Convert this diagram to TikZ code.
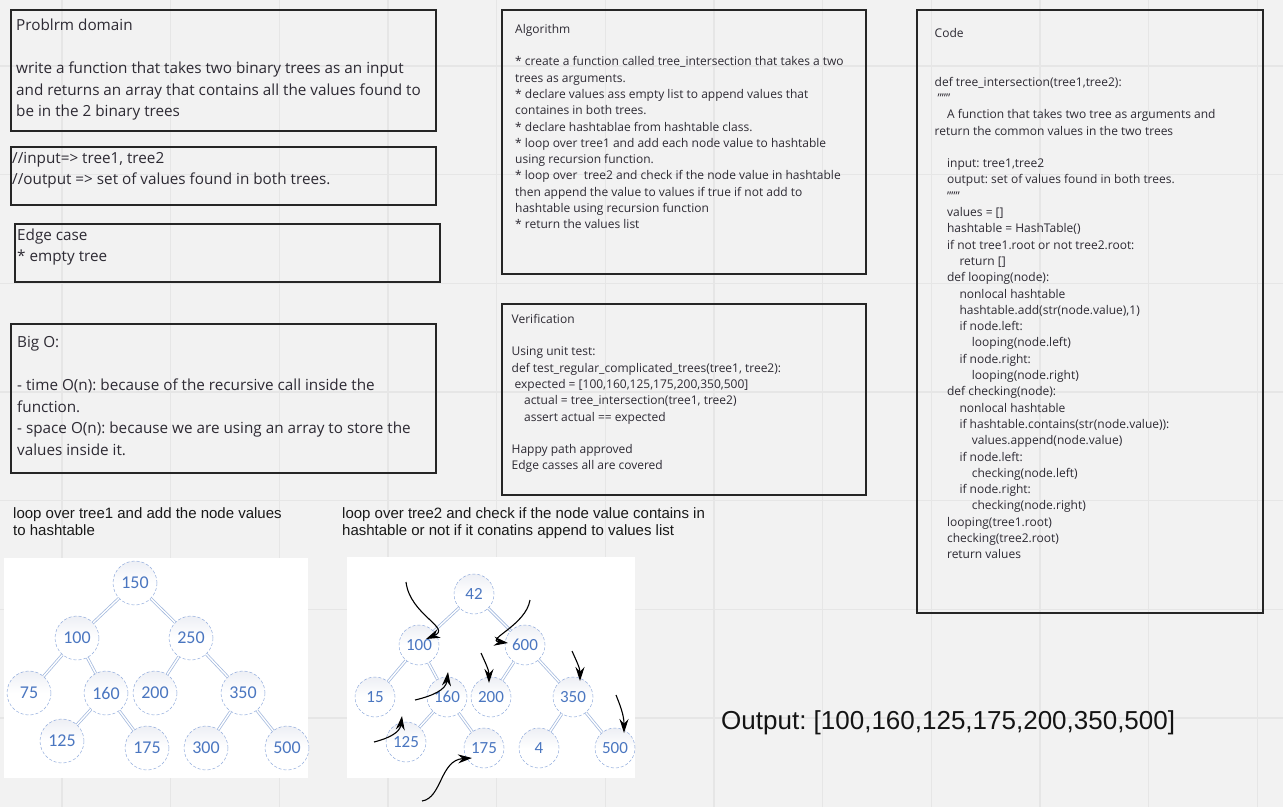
\documentclass[tikz,border=0pt]{standalone}
\usepackage{fontspec}
\setmainfont{Open Sans}
\newfontfamily\arialf{Liberation Sans}
\newfontfamily\calib{Carlito}
\usetikzlibrary{arrows.meta}
\frenchspacing
\definecolor{bg}{HTML}{F2F2F2}
\definecolor{gridc}{HTML}{E6E6E6}
\definecolor{boxc}{HTML}{262626}
\definecolor{txt}{HTML}{2D2A33}
\definecolor{nodeblue}{HTML}{4A76C0}
\definecolor{ringc}{HTML}{8FAADC}
\definecolor{edgec}{HTML}{A3B9DE}
\definecolor{shadec}{HTML}{EDEFF5}
\newcommand\indA{\hspace*{12.4pt}}
\newcommand\indB{\hspace*{24.8pt}}
\newcommand\indC{\hspace*{37.2pt}}
\newcommand\dq{\char"22}
\tikzset{
  box/.style={draw=boxc, line width=2.6pt},
  bigtxt/.style={anchor=north west, inner sep=0pt, align=left, text=txt, font=\fontsize{15.27}{21.6}\selectfont\frenchspacing},
  smalltxt/.style={anchor=north west, inner sep=0pt, align=left, text=txt, font=\fontsize{12}{16.3}\selectfont\frenchspacing},
  lbl/.style={anchor=north west, inner sep=0pt, align=left, text=black!90, font=\arialf\fontsize{15}{17}\selectfont\frenchspacing},
  tnodeA/.style={circle, minimum size=44pt, inner sep=0pt, draw=ringc, densely dashed, line width=0.5pt, top color=shadec, bottom color=white, middle color=white, text=nodeblue, font=\calib\fontsize{18}{18}\selectfont},
  tnodeB/.style={tnodeA, minimum size=40pt, font=\calib\fontsize{17}{17}\selectfont},
  tedge/.style={draw=edgec, double=white, double distance=1.4pt, line width=0.75pt},
  handarrow/.style={draw=black, line width=1.1pt, -{Stealth[length=14pt,width=9pt]}}
}
\begin{document}
\begin{tikzpicture}[x=1pt,y=-1pt]
\useasboundingbox (0,0) rectangle (1283,807);
\fill[bg] (0,0) rectangle (1283,807);
\foreach \k in {0,...,11} \draw[gridc, line width=1.2pt] ({62+\k*108.67},0) -- ({62+\k*108.67},807);
\foreach \k in {0,...,6} \draw[gridc, line width=1.2pt] (0,{66+\k*108.67}) -- (1283,{66+\k*108.67});

% boxes
\draw[box] (11,10) rectangle (436,131);
\draw[box] (11,147) rectangle (436,205);
\draw[box] (15,224) rectangle (440,282);
\draw[box] (11,324) rectangle (436,473);
\draw[box] (502,10) rectangle (866,274);
\draw[box] (502,304) rectangle (866,495);
\draw[box] (917,10) rectangle (1263,613);

\node[bigtxt] (prob) at (16,14.9) {\strut Problrm domain\\ \\ write a function that takes two binary trees as an input\\ and returns an array that contains all the values found to\\ be in the 2 binary trees};
\node[bigtxt] (io) at (12,147.9) {\strut //input=> tree1, tree2\\ //output => set of values found in both trees.};
\node[bigtxt] (edge) at (17,224.9) {\strut Edge case\\ * empty tree};
\node[bigtxt] (bigo) at (17,331.9) {\strut Big O:\\ \\ - time O(n): because of the recursive call inside the\\ function.\\ - space O(n): because we are using an array to store the\\ values inside it.};

\node[smalltxt] (algo) at (515,21.6) {\strut Algorithm\\ \\ * create a function called tree\_intersection that takes a two\\ trees as arguments.\\ * declare values ass empty list to append values that\\ containes in both trees.\\ * declare hashtablae from hashtable class.\\ * loop over tree1 and add each node value to hashtable\\ using recursion function.\\ * loop over\ \ tree2 and check if the node value in hashtable\\ then append the value to values if true if not add to\\ hashtable using recursion function\\ * return the values list};

\node[smalltxt] (verif) at (511.5,311.6) {\strut Verification\\ \\ Using unit test:\\ def test\_regular\_complicated\_trees(tree1, tree2):\\ \hspace*{3pt}expected = [100,160,125,175,200,350,500]\\ \indA actual = tree\_intersection(tree1, tree2)\\ \indA assert actual == expected\\ \\ Happy path approved\\ Edge casses all are covered};

\node[smalltxt] (code) at (934.5,25.6) {\strut Code\\ \\ \\ def tree\_intersection(tree1,tree2):\\ \hspace*{3pt}\dq\dq\dq\\ \indA A function that takes two tree as arguments and\\ return the common values in the two trees\\ \\ \indA input: tree1,tree2\\ \indA output: set of values found in both trees.\\ \indA \dq\dq\dq\\ \indA values = []\\ \indA hashtable = HashTable()\\ \indA if not tree1.root or not tree2.root:\\ \indB return []\\ \indA def looping(node):\\ \indB nonlocal hashtable\\ \indB hashtable.add(str(node.value),1)\\ \indB if node.left:\\ \indC looping(node.left)\\ \indB if node.right:\\ \indC looping(node.right)\\ \indA def checking(node):\\ \indB nonlocal hashtable\\ \indB if hashtable.contains(str(node.value)):\\ \indC values.append(node.value)\\ \indB if node.left:\\ \indC checking(node.left)\\ \indB if node.right:\\ \indC checking(node.right)\\ \indA looping(tree1.root)\\ \indA checking(tree2.root)\\ \indA return values};

% labels
\node[lbl] (lab1) at (13,506.1) {\strut loop over tree1 and add the node values\\ to hashtable};
\node[lbl] (lab2) at (342,506.1) {\strut loop over tree2 and check if the node value contains in\\ hashtable or not if it conatins append to values list};
\node[anchor=base west, inner sep=0pt, text=black!92, font=\arialf\fontsize{26}{26}\selectfont\frenchspacing] (out) at (721,729) {Output: [100,160,125,175,200,350,500]};

% tree 1
\fill[white] (4,558) rectangle (308,778);
\node[tnodeA] (a150) at (135,583) {150};
\node[tnodeA] (a100) at (77,638) {100};
\node[tnodeA] (a250) at (191,638) {250};
\node[tnodeA] (a75) at (29,693) {75};
\node[tnodeA] (a160) at (106,693) {160};
\node[tnodeA] (a200) at (155,693) {200};
\node[tnodeA] (a350) at (243,693) {350};
\node[tnodeA] (a125) at (62,741) {125};
\node[tnodeA] (a175) at (147,748) {175};
\node[tnodeA] (a300) at (206,748) {300};
\node[tnodeA] (a500) at (287,748) {500};
\foreach \p/\c in {a150/a100,a150/a250,a100/a75,a100/a160,a250/a200,a250/a350,a160/a125,a160/a175,a350/a300,a350/a500}
  \draw[tedge] (\p) -- (\c);

% tree 2
\fill[white] (347,557) rectangle (635,778);
\node[tnodeB] (b42) at (474,594) {42};
\node[tnodeB] (b100) at (419,645) {100};
\node[tnodeB] (b600) at (525,645) {600};
\node[tnodeB] (b15) at (375,697) {15};
\node[tnodeB] (b160) at (447,697) {160};
\node[tnodeB] (b200) at (491,697) {200};
\node[tnodeB] (b350) at (573,697) {350};
\node[tnodeB] (b125) at (406,742) {125};
\node[tnodeB] (b175) at (484,748) {175};
\node[tnodeB] (b4) at (539,748) {4};
\node[tnodeB] (b500) at (615,748) {500};
\foreach \p/\c in {b42/b100,b42/b600,b100/b15,b100/b160,b600/b200,b600/b350,b160/b125,b160/b175,b350/b4,b350/b500}
  \draw[tedge] (\p) -- (\c);

% hand-drawn arrows
\coordinate (s1) at (406,582);
\coordinate (s2) at (530,600);
\coordinate (s3) at (481,653);
\coordinate (s4) at (572,651);
\coordinate (s5) at (616,695);
\coordinate (s6) at (415,700);
\coordinate (s7) at (374,742);
\coordinate (s8) at (422,801);
\draw[handarrow] (s1) .. controls (410,615) and (452,628) .. (426,639);
\draw[handarrow] (s2) .. controls (526,625) and (485,640) .. (508,643);
\draw[handarrow] (s3) .. controls (485,662) and (489,670) .. (489,683);
\draw[handarrow] (s4) .. controls (576,660) and (580,668) .. (580,681);
\draw[handarrow] (s5) .. controls (620,705) and (624,715) .. (624,733);
\draw[handarrow] (s6) .. controls (432,696) and (446,690) .. (448,672);
\draw[handarrow] (s7) .. controls (390,738) and (400,732) .. (402,716);
\draw[handarrow] (s8) .. controls (442,798) and (440,760) .. (472,758);
\end{tikzpicture}
\end{document}
